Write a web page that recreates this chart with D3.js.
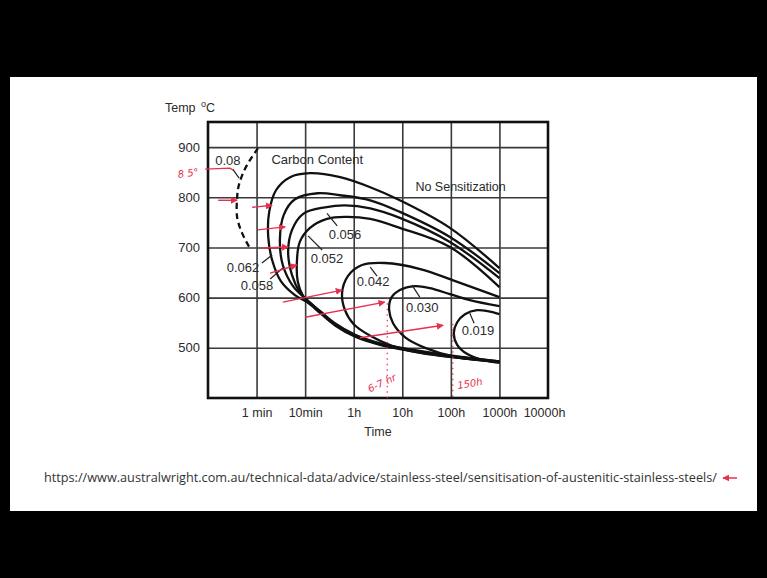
<!DOCTYPE html>
<html><head><meta charset="utf-8">
<script src="https://cdn.jsdelivr.net/npm/d3@7"></script>
<style>body{margin:0;background:#000;} svg{display:block;}</style>
</head><body>
<svg id="c" width="767" height="578"></svg>
<script>
// ---------- data (x in decade positions: 1 = 1 min ... 7 = 10000h; y in deg C) ----------
const xTickValues = [1, 2, 3, 4, 5, 6, 7];
const xTickLabels = ["1 min", "10min", "1h", "10h", "100h", "1000h", "10000h"];
const yTickValues = [500, 600, 700, 800, 900];

const curve008 = [[1.03,898],[0.85,872],[0.72,848],[0.63,822],[0.6,800],[0.6,760],[0.7,729],[0.86,699]];
const curve062 = [[6,659],[4.98,739],[3.95,794],[3.34,820],[2.72,840],[2.1,848],[1.69,840],[1.4,814],[1.26,771],[1.24,721],[1.32,675],[1.5,633],[1.79,605],[2.04,591],[2.31,569],[2.61,545],[3.03,522],[3.54,506],[4.16,494],[4.98,482],[6,472]];
const curve058 = [[6,649],[4.98,721],[3.95,771],[3.34,794],[2.72,804],[2.26,808],[1.79,796],[1.56,765],[1.48,715],[1.54,665],[1.75,623],[2.04,595],[2.31,571],[2.61,547],[3.03,524],[3.54,507],[4.16,495],[4.98,483],[6,472]];
const curve056 = [[6,639],[4.98,711],[3.95,759],[3.34,778],[2.82,784],[2.41,780],[1.96,767],[1.73,735],[1.65,691],[1.73,645],[1.89,611],[2.06,593],[2.31,572],[2.61,548],[3.03,525],[3.54,508],[4.16,496],[4.98,484],[6,473]];
const curve052 = [[6,621],[4.98,701],[3.95,739],[3.34,757],[2.82,761],[2.45,757],[2.1,739],[1.89,711],[1.83,671],[1.85,631],[1.96,603],[2.06,593],[2.31,573],[2.61,549],[3.03,526],[3.54,509],[4.16,497],[4.98,485],[6,473]];
const curve042 = [[6,601],[5.09,633],[4.37,657],[3.64,669],[3.17,665],[2.88,643],[2.76,609],[2.82,575],[3.0,547],[3.34,524],[3.79,504],[4.37,490],[5.19,480],[6,472]];
const curve030 = [[6,583],[5.39,595],[4.98,607],[4.57,619],[4.26,623],[3.95,615],[3.77,599],[3.73,575],[3.81,549],[4.06,521],[4.47,500],[5.09,482],[6,472]];
const curve019 = [[6,567],[5.76,573],[5.54,575],[5.29,567],[5.13,551],[5.06,529],[5.13,506],[5.33,488],[5.64,476],[6,470]];

const carbonLabels = ["0.08", "0.062", "0.058", "0.056", "0.052", "0.042", "0.030", "0.019"];
const labelPos = [[0.41,874],[0.72,661],[1.01,625],[2.82,725],[2.45,679],[3.40,633],[4.41,581],[5.56,535]];
const leaders = [
  [[0.51,856],[0.64,838]],
  [[1.11,669],[1.32,685]],
  [[1.28,637],[1.54,659]],
  [[2.45,768],[2.66,743]],
  [[2.06,723],[2.35,695]],
  [[3.34,661],[3.48,643]],
  [[4.2,625],[4.36,601]],
  [[5.39,569],[5.48,549]]
];

// hand-drawn red annotations
const redArrows = [
  [[0.21,794],[0.6,794]],
  [[0.91,780],[1.32,784]],
  [[1.03,735],[1.59,741]],
  [[1.11,699],[1.65,701]],
  [[1.28,649],[1.83,665]],
  [[1.54,591],[2.76,615]],
  [[2.0,561],[3.64,591]],
  [[3.13,520],[4.84,545]]
];
const redPointer = [[-0.06,856],[0.45,858],[0.52,854]];
const redDotted = [[[3.69,600],[3.69,400]],[[5.04,548],[5.04,400]]];
const redNotes = [
  {text:"8 5°", pos:[-0.41,848], rot:-8},
  {text:"6-7 hr", pos:[3.58,430], rot:-25},
  {text:"150h", pos:[5.39,429], rot:-10}
];

const urlText = "https://www.australwright.com.au/technical-data/advice/stainless-steel/sensitisation-of-austenitic-stainless-steels/";

// ---------- drawing ----------
const svg = d3.select("#c");
svg.append("rect").attr("width", 767).attr("height", 578).attr("fill", "#000");
svg.append("rect").attr("x", 10).attr("y", 77).attr("width", 747).attr("height", 434).attr("fill", "#fff");

const L = 208, R = 548, T = 122, B = 398;
const x = d3.scaleLinear().domain([0, 7]).range([L, R]);
const y = d3.scaleLinear().domain([400, 950]).range([B, T]);
const font = "Liberation Sans, Arial, Helvetica, sans-serif";
const ink = "#2b2b2b";

// grid
const gx = svg.append("g").attr("transform", `translate(0,${B})`)
  .call(d3.axisBottom(x).tickValues(xTickValues.slice(0, 6)).tickSize(-(B - T)).tickFormat(""));
gx.select(".domain").remove();
gx.selectAll("line").attr("stroke", "#3a3a3a").attr("stroke-width", 1.6);

const gy = svg.append("g").attr("transform", `translate(${L},0)`)
  .call(d3.axisLeft(y).tickValues(yTickValues).tickSize(-(R - L)).tickFormat(""));
gy.select(".domain").remove();
gy.selectAll("line").attr("stroke", "#3a3a3a").attr("stroke-width", 1.6);

// frame
svg.append("rect").attr("x", L).attr("y", T).attr("width", R - L).attr("height", B - T)
  .attr("fill", "none").attr("stroke", "#111").attr("stroke-width", 2.6);

// tick labels
const lx = svg.append("g").attr("transform", `translate(0,${B})`)
  .call(d3.axisBottom(x).tickValues(xTickValues).tickSize(0).tickPadding(10)
    .tickFormat(d => xTickLabels[xTickValues.indexOf(d)]));
lx.select(".domain").remove();
lx.selectAll("text").attr("font-family", font).attr("font-size", 12.5).attr("fill", ink);
lx.selectAll(".tick").filter(d => d === 7).select("text").attr("dx", -4);

const ly = svg.append("g").attr("transform", `translate(${L},0)`)
  .call(d3.axisLeft(y).tickValues(yTickValues).tickSize(0).tickPadding(8));
ly.select(".domain").remove();
ly.selectAll("text").attr("font-family", font).attr("font-size", 13).attr("fill", ink);

// axis titles
const tt = svg.append("text").attr("x", 165).attr("y", 112).attr("font-family", font)
  .attr("font-size", 12.5).attr("fill", ink);
tt.append("tspan").text("Temp ");
tt.append("tspan").attr("font-size", 9).attr("dy", -5).attr("dx", 2).text("o");
tt.append("tspan").attr("dy", 5).text("C");
svg.append("text").attr("x", x(3.5)).attr("y", 436).attr("text-anchor", "middle")
  .attr("font-family", font).attr("font-size", 12.5).attr("fill", ink).text("Time");

// region labels
svg.append("text").attr("x", x(2.25)).attr("y", y(866)).attr("text-anchor", "middle")
  .attr("font-family", font).attr("font-size", 13).attr("fill", ink).text("Carbon Content");
svg.append("text").attr("x", x(5.2)).attr("y", y(812)).attr("text-anchor", "middle")
  .attr("font-family", font).attr("font-size", 12.5).attr("fill", ink).text("No Sensitization");

// curves
const line = d3.line().x(d => x(d[0])).y(d => y(d[1])).curve(d3.curveCatmullRom.alpha(0.5));
const solid = [curve062, curve058, curve056, curve052, curve042, curve030, curve019];
svg.append("g").selectAll("path").data(solid).join("path")
  .attr("d", line).attr("fill", "none").attr("stroke", "#111").attr("stroke-width", 2.3)
  .attr("stroke-linejoin", "round");
svg.append("path").attr("d", line(curve008)).attr("fill", "none").attr("stroke", "#111")
  .attr("stroke-width", 2.3).attr("stroke-dasharray", "6,4");

// leaders and labels
const straight = d3.line().x(d => x(d[0])).y(d => y(d[1]));
svg.append("g").selectAll("path").data(leaders).join("path")
  .attr("d", straight).attr("stroke", "#222").attr("stroke-width", 1.2).attr("fill", "none");
svg.append("g").selectAll("text").data(carbonLabels).join("text")
  .attr("x", (d, i) => x(labelPos[i][0])).attr("y", (d, i) => y(labelPos[i][1]))
  .attr("dy", "0.35em").attr("text-anchor", "middle")
  .attr("font-family", font).attr("font-size", 13).attr("fill", ink).text(d => d);

// red annotations
const red = "#e5304e";
svg.append("defs").append("marker").attr("id", "ah").attr("viewBox", "0 0 10 10")
  .attr("refX", 9).attr("refY", 5).attr("markerWidth", 7).attr("markerHeight", 7)
  .attr("markerUnits", "userSpaceOnUse").attr("orient", "auto")
  .append("path").attr("d", "M0,0L10,5L0,10Z").attr("fill", red);
const ann = svg.append("g");
ann.selectAll("path.arr").data(redArrows).join("path").attr("class", "arr")
  .attr("d", straight).attr("stroke", red).attr("stroke-width", 1.4).attr("fill", "none")
  .attr("marker-end", "url(#ah)");
ann.append("path").attr("d", straight(redPointer)).attr("stroke", red).attr("stroke-width", 1.4).attr("fill", "none");
ann.selectAll("path.dot").data(redDotted).join("path").attr("class", "dot")
  .attr("d", straight).attr("stroke", red).attr("stroke-width", 1.2).attr("stroke-dasharray", "1.5,4").attr("fill", "none");
ann.selectAll("text").data(redNotes).join("text")
  .attr("transform", d => `translate(${x(d.pos[0])},${y(d.pos[1])}) rotate(${d.rot})`)
  .attr("text-anchor", "middle").attr("dy", "0.35em").attr("font-family", "DejaVu Sans, sans-serif")
  .attr("font-style", "italic").attr("font-size", 10).attr("fill", red).text(d => d.text);

// source url
svg.append("text").attr("x", 44).attr("y", 482).attr("font-family", "Open Sans, Noto Sans, sans-serif")
  .attr("font-size", 12.5).attr("fill", "#333").attr("textLength", 673).attr("lengthAdjust", "spacingAndGlyphs")
  .text(urlText);
svg.append("defs").append("marker").attr("id", "ah2").attr("viewBox", "0 0 10 10")
  .attr("refX", 9).attr("refY", 5).attr("markerWidth", 7).attr("markerHeight", 7)
  .attr("markerUnits", "userSpaceOnUse").attr("orient", "auto")
  .append("path").attr("d", "M0,0L10,5L0,10Z").attr("fill", red);
svg.append("line").attr("x1", 737).attr("y1", 478).attr("x2", 723).attr("y2", 478)
  .attr("stroke", red).attr("stroke-width", 1.5).attr("marker-end", "url(#ah2)");
</script>
</body></html>
